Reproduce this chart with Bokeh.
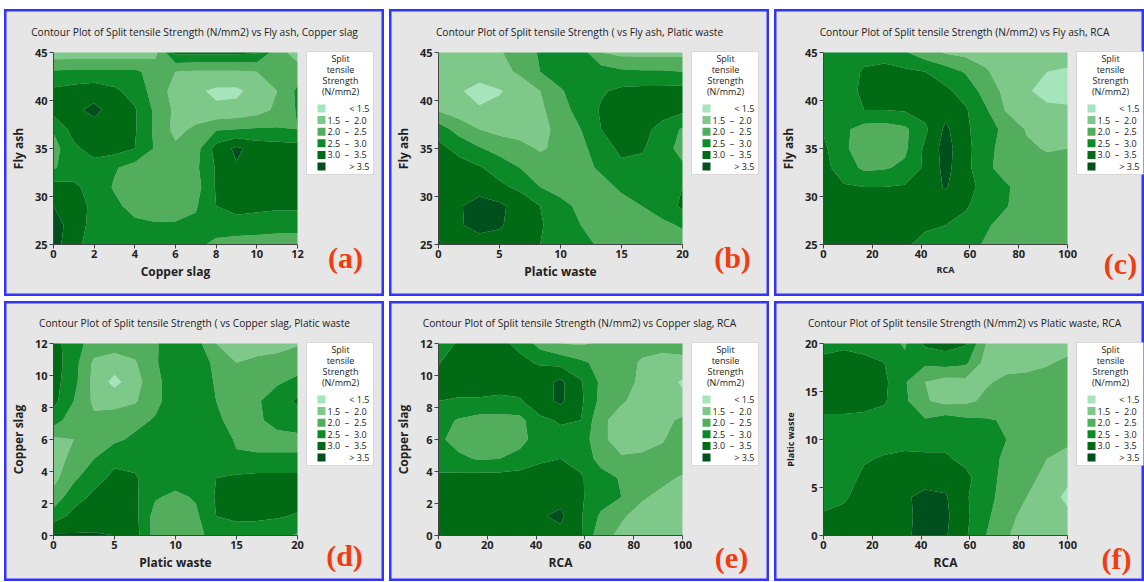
import numpy as np
from bokeh.plotting import figure
from bokeh.layouts import row, column
from bokeh.models import Label, FixedTicker, Range1d, BoxAnnotation
from bokeh.embed import file_html
from bokeh.resources import INLINE

# ---------------- data ----------------
levels = [1.0, 1.5, 2.0, 2.5, 3.0, 3.5, 4.5]
band_colors = ["#a6e4bc", "#7ec98a", "#52ae5c", "#0c8a28", "#006b14", "#00501e"]
NB = "\u00a0"
legend_labels = ["<" + NB + "1.5",
                 "1.5" + NB * 2 + "\u2013" + NB * 2 + "2.0",
                 "2.0" + NB * 2 + "\u2013" + NB * 2 + "2.5",
                 "2.5" + NB * 2 + "\u2013" + NB * 2 + "3.0",
                 "3.0" + NB * 2 + "\u2013" + NB * 2 + "3.5",
                 ">" + NB + "3.5"]
legend_title_lines = ["Split", "tensile", "Strength", "(N/mm2)"]

# grids of read-off strength values; rows listed from the top (max y) to the bottom (min y)
z_a = [
    [1.7, 1.7, 1.7, 1.7, 1.7, 1.85, 3.1, 3.1, 3.1, 3.1, 3.05, 2.2, 1.8],
    [2.55, 2.6, 2.6, 2.6, 2.6, 2.3, 2.0, 1.95, 1.95, 1.95, 2.0, 2.2, 2.2],
    [3.1, 3.2, 3.3, 3.1, 2.8, 2.3, 1.8, 1.6, 1.4, 1.4, 1.7, 2.0, 2.6],
    [3.2, 3.4, 3.62, 3.3, 3.05, 2.4, 1.9, 1.7, 1.6, 1.65, 1.8, 2.1, 2.55],
    [2.55, 3.2, 3.3, 3.25, 3.05, 2.4, 1.85, 2.1, 2.45, 2.5, 2.55, 2.55, 2.5],
    [2.3, 2.9, 3.2, 3.2, 3.0, 2.45, 2.1, 2.3, 3.2, 3.6, 3.3, 3.25, 3.2],
    [2.45, 2.75, 2.8, 2.55, 2.3, 2.2, 2.2, 2.4, 3.05, 3.45, 3.3, 3.25, 3.2],
    [3.2, 3.1, 2.8, 2.45, 2.2, 2.15, 2.15, 2.3, 3.05, 3.3, 3.3, 3.25, 3.2],
    [3.5, 3.2, 2.9, 2.6, 2.35, 2.25, 2.3, 2.45, 3.0, 3.2, 3.15, 3.1, 3.1],
    [3.7, 3.3, 2.8, 2.7, 2.6, 2.55, 2.55, 2.6, 2.7, 2.75, 2.7, 2.65, 2.65],
    [3.75, 3.1, 2.85, 2.8, 2.75, 2.75, 2.7, 2.6, 2.4, 2.3, 2.3, 2.3, 2.3],
]
z_b = [
    [1.75, 1.75, 1.8, 1.95, 2.25, 2.55, 2.75, 2.75, 2.0, 1.85, 1.85, 1.85, 1.85],
    [1.7, 1.6, 1.7, 1.8, 2.1, 2.5, 2.75, 2.8, 2.75, 2.6, 2.55, 2.55, 2.5],
    [1.7, 1.55, 1.35, 1.47, 1.65, 2.0, 2.45, 2.75, 2.95, 3.1, 3.15, 3.15, 3.2],
    [1.95, 1.75, 1.55, 1.6, 1.75, 1.9, 2.3, 2.7, 3.05, 3.25, 3.3, 3.25, 3.1],
    [2.75, 2.3, 2.0, 1.85, 1.8, 1.85, 2.15, 2.5, 3.0, 3.2, 3.2, 2.8, 2.45],
    [3.15, 2.85, 2.55, 2.3, 2.15, 1.95, 2.1, 2.35, 2.8, 3.1, 3.05, 2.75, 2.3],
    [3.2, 3.2, 3.05, 2.8, 2.5, 2.25, 2.2, 2.3, 2.6, 2.9, 2.85, 2.7, 2.6],
    [3.3, 3.3, 3.3, 3.1, 2.9, 2.5, 2.25, 2.2, 2.3, 2.6, 2.7, 2.75, 3.0],
    [3.3, 3.45, 3.7, 3.6, 3.3, 3.0, 2.7, 2.35, 2.2, 2.3, 2.5, 2.7, 3.1],
    [3.35, 3.45, 3.65, 3.55, 3.3, 3.05, 2.75, 2.5, 2.2, 2.15, 2.25, 2.4, 2.55],
    [3.55, 3.3, 3.3, 3.3, 3.2, 3.0, 2.75, 2.6, 2.45, 2.3, 2.3, 2.3, 2.3],
]
z_c = [
    [2.7, 2.75, 2.85, 2.8, 2.55, 2.2, 1.95, 1.85, 1.8, 1.75, 1.75, 1.7, 1.7],
    [2.7, 2.8, 3.05, 3.15, 3.1, 3.0, 2.75, 2.45, 2.05, 1.75, 1.65, 1.5, 1.45],
    [2.7, 2.8, 3.1, 3.2, 3.2, 3.2, 3.1, 2.8, 2.3, 1.85, 1.55, 1.35, 1.38],
    [2.7, 2.75, 3.0, 3.0, 3.05, 3.2, 3.35, 3.05, 2.55, 1.95, 1.8, 1.6, 1.55],
    [2.95, 2.6, 2.3, 2.25, 2.4, 2.9, 3.6, 3.1, 2.65, 2.4, 1.95, 1.85, 1.9],
    [3.1, 2.6, 2.2, 2.2, 2.4, 3.1, 3.7, 3.15, 2.65, 2.3, 2.1, 1.95, 2.0],
    [3.15, 2.75, 2.4, 2.45, 2.6, 3.1, 3.65, 3.15, 2.6, 2.3, 2.25, 2.2, 2.2],
    [3.2, 3.05, 3.0, 3.0, 3.05, 3.2, 3.55, 3.15, 2.85, 2.55, 2.3, 2.25, 2.25],
    [3.25, 3.2, 3.2, 3.2, 3.2, 3.2, 3.2, 3.05, 2.75, 2.52, 2.3, 2.25, 2.25],
    [3.3, 3.2, 3.2, 3.2, 3.15, 3.05, 3.0, 2.85, 2.55, 2.35, 2.25, 2.25, 2.25],
    [3.55, 3.2, 3.15, 3.1, 3.05, 2.9, 2.75, 2.65, 2.45, 2.3, 2.25, 2.25, 2.25],
]
z_d = [
    [3.2, 2.7, 2.3, 2.25, 2.25, 2.45, 2.75, 2.7, 2.0, 1.85, 1.8, 1.8, 1.95],
    [3.25, 2.7, 1.9, 1.75, 1.95, 2.45, 2.8, 2.75, 2.4, 2.0, 2.1, 2.2, 2.3],
    [3.2, 2.65, 1.85, 1.35, 1.8, 2.35, 2.8, 2.8, 2.45, 2.3, 2.35, 2.45, 2.6],
    [3.15, 2.5, 1.9, 1.85, 1.95, 2.35, 2.8, 2.8, 2.5, 2.35, 2.45, 2.7, 3.1],
    [2.75, 2.2, 2.1, 2.2, 2.35, 2.55, 2.85, 2.8, 2.55, 2.4, 2.45, 2.6, 2.7],
    [1.9, 2.0, 2.3, 2.4, 2.6, 2.75, 2.9, 2.85, 2.75, 2.45, 2.4, 2.4, 2.4],
    [1.85, 2.1, 2.5, 2.9, 2.85, 2.8, 2.9, 2.85, 2.85, 2.55, 2.55, 2.55, 2.55],
    [1.85, 2.4, 2.85, 3.1, 3.05, 2.75, 2.7, 2.75, 3.0, 3.1, 3.15, 3.15, 3.15],
    [2.2, 2.8, 3.1, 3.2, 3.1, 2.55, 2.4, 2.55, 3.05, 3.2, 3.2, 3.2, 3.2],
    [2.75, 3.15, 3.25, 3.25, 3.15, 2.3, 2.25, 2.4, 3.0, 3.1, 3.1, 3.05, 2.95],
    [3.6, 3.55, 3.55, 3.5, 3.2, 2.3, 2.2, 2.35, 2.7, 2.75, 2.7, 2.6, 2.45],
]
z_e = [
    [2.8, 3.05, 3.15, 3.1, 2.9, 2.3, 2.0, 1.95, 2.05, 2.2, 2.15, 2.2, 2.3],
    [2.98, 3.2, 3.25, 3.2, 3.1, 2.95, 2.85, 2.6, 2.35, 2.2, 1.95, 1.8, 1.8],
    [3.15, 3.2, 3.2, 3.2, 3.2, 3.3, 3.6, 3.05, 2.4, 2.2, 1.9, 1.7, 1.45],
    [3.0, 2.95, 2.95, 2.9, 2.95, 3.3, 3.6, 3.1, 2.35, 2.05, 1.85, 1.75, 1.6],
    [2.7, 2.45, 2.3, 2.3, 2.35, 2.9, 3.05, 3.0, 2.1, 1.8, 1.75, 1.85, 2.1],
    [2.6, 2.3, 2.2, 2.2, 2.3, 2.8, 2.85, 2.8, 2.1, 1.8, 1.8, 1.95, 2.3],
    [2.75, 2.6, 2.45, 2.5, 2.7, 2.95, 3.0, 2.85, 2.3, 2.05, 2.1, 2.2, 2.25],
    [3.1, 3.15, 3.2, 3.2, 3.2, 3.15, 3.2, 3.05, 2.7, 2.45, 2.3, 2.1, 1.95],
    [3.25, 3.25, 3.25, 3.25, 3.25, 3.3, 3.35, 3.05, 2.75, 2.5, 2.05, 1.9, 1.85],
    [3.35, 3.3, 3.3, 3.3, 3.3, 3.45, 3.6, 3.05, 2.4, 2.05, 1.85, 1.8, 1.8],
    [3.55, 3.3, 3.3, 3.3, 3.3, 3.3, 3.35, 3.05, 2.15, 1.9, 1.8, 1.8, 1.8],
]
z_f = [
    [2.8, 2.9, 2.8, 2.7, 2.45, 3.1, 3.2, 3.05, 2.0, 1.8, 1.75, 1.75, 1.8],
    [3.15, 3.2, 3.15, 3.0, 2.6, 2.6, 2.7, 2.6, 1.8, 1.85, 1.85, 1.95, 2.1],
    [3.2, 3.25, 3.25, 3.1, 2.55, 2.0, 1.8, 1.85, 1.95, 2.1, 2.15, 2.2, 2.3],
    [3.2, 3.2, 3.2, 3.05, 2.6, 2.05, 1.85, 1.9, 2.1, 2.25, 2.3, 2.3, 2.3],
    [2.9, 2.9, 2.85, 2.8, 2.75, 2.55, 2.75, 2.6, 2.55, 2.45, 2.3, 2.3, 2.25],
    [2.75, 2.75, 2.75, 2.8, 2.85, 2.9, 2.9, 2.85, 2.7, 2.5, 2.3, 2.2, 2.1],
    [2.7, 2.75, 2.95, 3.05, 3.1, 3.05, 3.05, 2.9, 2.7, 2.4, 2.25, 2.0, 1.85],
    [2.7, 2.8, 3.1, 3.2, 3.3, 3.35, 3.3, 3.1, 2.75, 2.3, 2.15, 1.85, 1.6],
    [2.85, 2.95, 3.15, 3.3, 3.45, 3.6, 3.55, 3.05, 2.7, 2.25, 2.0, 1.7, 1.4],
    [3.05, 3.1, 3.2, 3.3, 3.4, 3.65, 3.6, 3.1, 2.6, 2.15, 1.85, 1.7, 1.6],
    [3.1, 3.15, 3.2, 3.3, 3.45, 3.6, 3.55, 3.05, 2.5, 2.05, 1.75, 1.7, 1.7],
]

fly_ash = (25, 45)
copper_slag = (0, 12)
plastic_waste = (0, 20)
rca = (0, 100)
ticks_fly = [25, 30, 35, 40, 45]
ticks_cs = [0, 2, 4, 6, 8, 10, 12]
ticks_pw = [0, 5, 10, 15, 20]
ticks_rca = [0, 20, 40, 60, 80, 100]

titles = [
    "Contour Plot of Split tensile Strength (N/mm2) vs Fly ash, Copper slag",
    "Contour Plot of Split tensile Strength ( vs Fly ash, Platic waste",
    "Contour Plot of Split tensile Strength (N/mm2) vs Fly ash, RCA",
    "Contour Plot of Split tensile Strength ( vs Copper slag, Platic waste",
    "Contour Plot of Split tensile Strength (N/mm2) vs Copper slag, RCA",
    "Contour Plot of Split tensile Strength (N/mm2) vs Platic waste, RCA",
]

# ---------------- styling / layout ----------------
FONT = "Open Sans"
DATA_L = 49                 # px from panel left edge to the contour area
DATA_W, DATA_H = 244, 192   # px size of the contour (data) area
BG = "#e6e6e6"
TXT = "#222222"


def make_panel(title, xlabel, ylabel, xr, yr, z_rows, xticks, yticks, tag, W, H, T, title_d, tag_pos,
               xlab_size="12px", ylab_size="12px"):
    # the frame is the whole panel; T = px from panel top to the contour area
    x0, x1 = xr
    y0, y1 = yr
    x_start = x0 - (x1 - x0) * DATA_L / DATA_W
    x_end = x0 + (x1 - x0) * (W - DATA_L) / DATA_W
    y_end = y1 + (y1 - y0) * T / DATA_H
    y_start = y1 - (y1 - y0) * (H - T) / DATA_H
    p = figure(width=W, height=H, output_backend="svg", toolbar_location=None,
               x_range=Range1d(x_start, x_end), y_range=Range1d(y_start, y_end),
               min_border_left=0, min_border_right=0, min_border_top=0, min_border_bottom=0,
               background_fill_color=BG, border_fill_color=BG,
               outline_line_color="#3333ff", outline_line_width=4)
    p.title.visible = False
    z = np.array(z_rows)[::-1]
    ny, nx = z.shape
    xs = np.linspace(x0, x1, nx)
    ys = np.linspace(y0, y1, ny)
    p.contour(xs, ys, z, levels, fill_color=band_colors)
    p.xgrid.visible = False
    p.ygrid.visible = False

    p.xaxis.ticker = FixedTicker(ticks=xticks)
    p.yaxis.ticker = FixedTicker(ticks=yticks)
    p.xaxis.bounds = (x0, x1)
    p.yaxis.bounds = (y0, y1)
    p.xaxis.fixed_location = y0
    p.yaxis.fixed_location = x0
    for ax in (p.xaxis[0], p.yaxis[0]):
        ax.major_tick_in = 0
        ax.major_tick_out = 4
        ax.minor_tick_line_color = None
        ax.axis_line_color = "#444444"
        ax.major_tick_line_color = "#444444"
        ax.major_label_text_font = FONT
        ax.major_label_text_font_size = "11px"
        ax.major_label_text_font_style = "bold"
        ax.major_label_text_color = TXT
        ax.axis_label_text_font = FONT
        ax.axis_label_text_font_style = "bold"
        ax.axis_label_text_color = TXT
    p.xaxis.major_label_standoff = 1
    p.yaxis.major_label_standoff = 2
    p.xaxis.axis_label = xlabel
    p.yaxis.axis_label = ylabel
    p.xaxis.axis_label_text_font_size = xlab_size
    p.yaxis.axis_label_text_font_size = ylab_size
    p.xaxis.axis_label_standoff = 2
    p.yaxis.axis_label_standoff = 5

    def Y(d):  # px below the panel top -> screen y measured from the bottom
        return H - d

    def label(x, d, text, size="9px", align="left", **kw):
        p.add_layout(Label(x=x, y=Y(d), x_units="screen", y_units="screen", text=text,
                           text_font=kw.pop("font", FONT), text_font_size=size,
                           text_color=kw.pop("color", TXT), text_align=align,
                           text_baseline="middle", **kw))

    def box(l, r, dt, db, **kw):
        p.add_layout(BoxAnnotation(left=l, right=r, top=Y(dt), bottom=Y(db),
                                   left_units="screen", right_units="screen",
                                   top_units="screen", bottom_units="screen", fill_alpha=1.0, **kw))

    # chart title
    label(DATA_L + 141, title_d, title, size="10.2px", align="center")

    # legend: white box, four title lines, six swatches with their labels
    L = DATA_L
    box(L + 253, L + 320, T - 1, T + 122, fill_color="white", line_color="#9a9a9a", line_width=1)
    for i, line in enumerate(legend_title_lines):
        label(L + 287, T + 6 + 11 * i, line, align="center")
    for i, (c, lab) in enumerate(zip(band_colors, legend_labels)):
        dc = T + 56 + 11.6 * i
        box(L + 264, L + 272, dc - 4, dc + 4, fill_color=c, line_color=None)
        if i in (0, 5):
            label(L + 316, dc, lab, align="right")
        else:
            label(L + 274, dc, lab, align="left")

    # panel tag
    tx, ty = tag_pos
    label(L + tx, T + ty, tag, size="30px", align="center", font="Liberation Serif",
          color="#f23c0f", text_font_style="bold")
    return p


TOP_H, BOT_H = 287, 280
W1, W2, W3 = 380, 380, 370
pa = make_panel(titles[0], "Copper slag", "Fly ash", copper_slag, fly_ash, z_a, ticks_cs, ticks_fly,
                "(a)", W1, TOP_H, 43, 22, (292, 205))
pb = make_panel(titles[1], "Platic waste", "Fly ash", plastic_waste, fly_ash, z_b, ticks_pw, ticks_fly,
                "(b)", W2, TOP_H, 43, 22, (294, 205))
pc = make_panel(titles[2], "RCA", "Fly ash", rca, fly_ash, z_c, ticks_rca, ticks_fly,
                "(c)", W3, TOP_H, 43, 22, (297, 211), xlab_size="9px")
pd = make_panel(titles[3], "Platic waste", "Copper slag", plastic_waste, copper_slag, z_d, ticks_pw,
                ticks_cs, "(d)", W1, BOT_H, 42, 21, (291, 212))
pe = make_panel(titles[4], "RCA", "Copper slag", rca, copper_slag, z_e, ticks_rca, ticks_cs,
                "(e)", W2, BOT_H, 42, 21, (293, 214))
pf = make_panel(titles[5], "RCA", "Platic waste", rca, plastic_waste, z_f, ticks_rca, ticks_pw,
                "(f)", W3, BOT_H, 42, 21, (293, 215), ylab_size="9px")

layout = column(row(pa, pb, pc, spacing=5), row(pd, pe, pf, spacing=5), spacing=5)
layout.margin = (9, 0, 0, 4)

with open("out.html", "w") as f:
    f.write(file_html(layout, INLINE))
